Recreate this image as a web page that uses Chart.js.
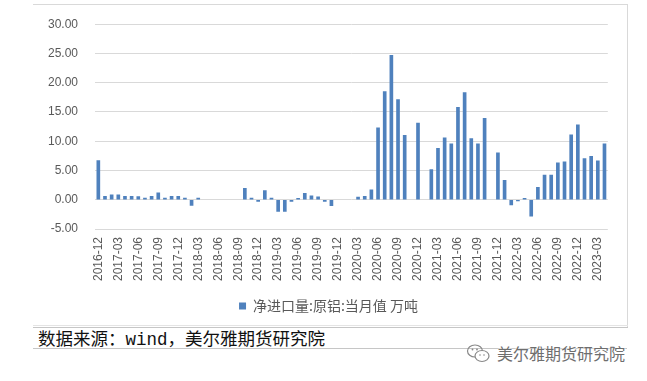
<!DOCTYPE html>
<html>
<head>
<meta charset="utf-8">
<script src="https://cdn.jsdelivr.net/npm/chart.js@4.4.0/dist/chart.umd.min.js"></script>
<style>
  html, body { margin: 0; padding: 0; background: #ffffff; }
  body { width: 647px; height: 381px; position: relative; overflow: hidden; }
  #wrap { position: absolute; left: 0; top: 0; width: 627px; height: 325px; }
  .ln { position: absolute; background: #d9d9d9; }
  #src { position: absolute; left: 38px; top: 329px; font-size: 17.5px; line-height: 22px;
         font-family: "Liberation Mono", "Noto Sans CJK SC", monospace; color: #111; white-space: nowrap; }
  #wm { position: absolute; left: 497px; top: 342px; font-size: 16px; line-height: 22px;
        font-family: "Noto Sans CJK SC", sans-serif; color: #6e6e6e; white-space: nowrap;
        text-shadow: 0 0 2px #fff, 0 0 2px #fff; }
  #icon { position: absolute; left: 466px; top: 343px; }
</style>
</head>
<body>
<div class="ln" style="left:33px; top:4px; width:595px; height:1px;"></div>
<div class="ln" style="left:627px; top:4px; width:1px; height:323px;"></div>
<div class="ln" style="left:33px; top:325px; width:595px; height:1px; background:#e4e4e4;"></div>
<div class="ln" style="left:33px; top:327px; width:595px; height:1px; background:#c6c6c6;"></div>
<div class="ln" style="left:33px; top:348px; width:594px; height:1px; background:#c6c6c6;"></div>
<div id="wrap"><canvas id="c" width="627" height="325"></canvas></div>
<div id="src">数据来源：wind，美尔雅期货研究院</div>
<svg id="icon" width="26" height="22" viewBox="0 0 26 22">
  <ellipse cx="9" cy="8" rx="7.5" ry="6" fill="none" stroke="#888" stroke-width="1.2"/>
  <ellipse cx="16" cy="13" rx="7" ry="5.5" fill="#fff" stroke="#888" stroke-width="1.2"/>
  <circle cx="6.5" cy="6.5" r="0.9" fill="#888"/><circle cx="11" cy="6.5" r="0.9" fill="#888"/>
  <circle cx="14" cy="12" r="0.8" fill="#888"/><circle cx="18" cy="12" r="0.8" fill="#888"/>
</svg>
<div id="wm">美尔雅期货研究院</div>
<script>
const categories = [
  "2016-12","2017-01","2017-02","2017-03","2017-04","2017-05","2017-06","2017-07","2017-08","2017-09","2017-10","2017-11",
  "2017-12","2018-01","2018-02","2018-03","2018-04","2018-05","2018-06","2018-07","2018-08","2018-09","2018-10","2018-11",
  "2018-12","2019-01","2019-02","2019-03","2019-04","2019-05","2019-06","2019-07","2019-08","2019-09","2019-10","2019-11",
  "2019-12","2020-01","2020-02","2020-03","2020-04","2020-05","2020-06","2020-07","2020-08","2020-09","2020-10","2020-11",
  "2020-12","2021-01","2021-02","2021-03","2021-04","2021-05","2021-06","2021-07","2021-08","2021-09","2021-10","2021-11",
  "2021-12","2022-01","2022-02","2022-03","2022-04","2022-05","2022-06","2022-07","2022-08","2022-09","2022-10","2022-11",
  "2022-12","2023-01","2023-02","2023-03","2023-04"
];
const netImports = [
  6.7, 0.6, 0.85, 0.85, 0.6, 0.6, 0.55, 0.3, 0.6, 1.2, 0.3, 0.6,
  0.6, 0.3, -0.95, 0.3, null, null, null, null, null, null, 1.95, 0.3,
  -0.3, 1.55, 0.3, -2.0, -2.0, -0.3, 0.25, 1.1, 0.65, 0.5, -0.3, -1.0,
  null, null, null, 0.45, 0.6, 1.7, 12.3, 18.5, 24.7, 17.1, 11.0, null,
  13.1, null, 5.15, 8.8, 10.6, 9.55, 15.8, 18.3, 10.45, 9.55, 13.9, null,
  8.0, 3.3, -0.9, -0.2, 0.25, -2.8, 2.1, 4.2, 4.2, 6.3, 6.5, 11.1,
  12.8, 7.05, 7.4, 6.65, 9.55
];
const seriesName = "净进口量:原铝:当月值 万吨";
const yMin = -5, yMax = 30, yStep = 5;

const legendShift = {
  id: 'legendShift',
  afterLayout(chart) {
    const lg = chart.legend;
    if (lg) { lg.left += 24; lg.right += 24; }
  }
};

new Chart(document.getElementById('c'), {
  type: 'bar',
  data: {
    labels: categories,
    datasets: [{
      label: seriesName,
      data: netImports,
      backgroundColor: '#4F81BD',
      borderWidth: 0,
      barThickness: 3
    }]
  },
  options: {
    responsive: false,
    animation: false,
    devicePixelRatio: 1,
    layout: { padding: { left: 0, right: 18, top: 22, bottom: 2 } },
    plugins: {
      tooltip: { enabled: false },
      legend: {
        position: 'bottom',
        labels: {
          boxWidth: 7, boxHeight: 7, padding: 10,
          color: '#595959',
          font: { family: '"Noto Sans CJK SC", sans-serif', size: 14 }
        }
      }
    },
    scales: {
      x: {
        grid: { display: false, drawTicks: false },
        border: { display: false },
        ticks: {
          autoSkip: false, maxRotation: 90, minRotation: 90, padding: 8,
          color: '#595959',
          font: { family: '"Liberation Sans", Arial, sans-serif', size: 12 },
          callback: function (v, i) { return i % 3 === 0 ? categories[i] : ''; }
        },
        afterFit(scale) { scale.height = 60; }
      },
      y: {
        min: yMin, max: yMax,
        grid: { color: '#d9d9d9', lineWidth: 1, drawTicks: false },
        border: { display: false },
        ticks: {
          stepSize: yStep, padding: 17,
          color: '#595959',
          font: { family: '"Liberation Sans", Arial, sans-serif', size: 12 },
          callback: function (v) { return Number(v).toFixed(2); }
        },
        afterFit(scale) { scale.width = 95; }
      }
    }
  },
  plugins: [legendShift]
});
</script>
</body>
</html>
